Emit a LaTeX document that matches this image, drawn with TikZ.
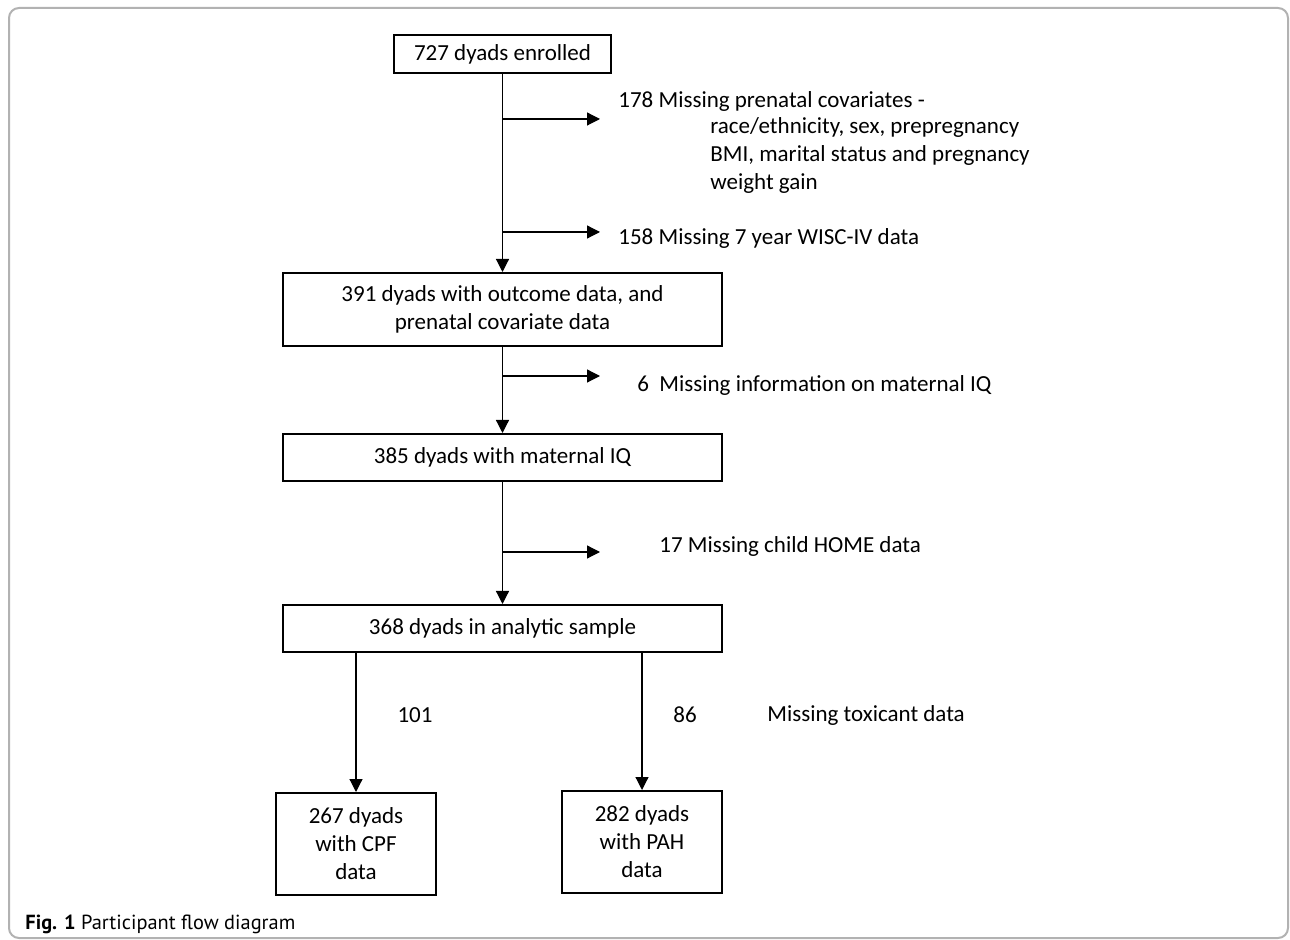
\documentclass[tikz,border=0pt]{standalone}
\usepackage{fontspec}
\setmainfont{Carlito}
\newfontfamily\capfont{PT Sans}
\usetikzlibrary{arrows.meta}

\begin{document}
\begin{tikzpicture}[
	x=0.5pt, y=-0.5pt,
	font=\fontsize{11.5}{14}\selectfont,
	block/.style={
		rectangle,
		draw=black, line width=1pt,
		inner sep=0pt, align=center
	},
	line/.style={draw, line width=0.6pt, -{Triangle[length=6.5pt,width=6.5pt]}},
	note/.style={anchor=west, inner sep=0pt, align=left},
	]
	\useasboundingbox (0,0) rectangle (1290,940);
	\draw [gray!60, line width=1pt, rounded corners=5pt] (9,8) rectangle (1288,938);

	\node [block, minimum width=108.5pt, minimum height=19pt] (enrol) at (502.5,54) {727 dyads enrolled};
	\node [block, minimum width=219.5pt, minimum height=36.5pt] (outcome) at (502.5,309.5) {391 dyads with outcome data, and\\prenatal covariate data};
	\node [block, minimum width=219.5pt, minimum height=23.5pt] (matiq) at (502.5,457.5) {385 dyads with maternal IQ};
	\node [block, minimum width=219.5pt, minimum height=23.5pt] (sample) at (502.5,628.5) {368 dyads in analytic sample};
	\node [block, minimum width=80pt, minimum height=51pt] (cpf) at (356,844) {267 dyads\\with CPF\\data};
	\node [block, minimum width=80pt, minimum height=51pt] (pah) at (642,842) {282 dyads\\with PAH\\data};

	% exclusions
	\node [note] (covar) at (618,101) {178 Missing prenatal covariates -};
	\node [note] (covarlist) at (710,155) {race/ethnicity, sex, prepregnancy\\BMI, marital status and pregnancy\\weight gain};
	\node [note] (wisc) at (618,238) {158 Missing 7 year WISC-IV data};
	\node [note] (mamiq) at (637,385) {6~~Missing information on maternal IQ};
	\node [note] (home) at (659,546) {17 Missing child HOME data};
	\node (n101) at (415,715) {101};
	\node (n86) at (685,715) {86};
	\node [note] (toxic) at (767,715) {Missing toxicant data};

	\coordinate (x1) at (600,119);
	\coordinate (x2) at (600,232);
	\coordinate (x3) at (600,376);
	\coordinate (x4) at (600,552);

	\path [line] (enrol) -- (outcome);
	\path [line] (enrol.south |- x1) -- (x1);
	\path [line] (enrol.south |- x2) -- (x2);
	\path [line] (outcome) -- (matiq);
	\path [line] (outcome.south |- x3) -- (x3);
	\path [line] (matiq) -- (sample);
	\path [line] (matiq.south |- x4) -- (x4);
	\path [line] (sample.south -| cpf) -- (cpf);
	\path [line] (sample.south -| pah) -- (pah);

	\node [anchor=base west, inner sep=0pt, font=\capfont\fontsize{10.2}{12}\selectfont] (caption) at (25,929) {\textbf{Fig. 1} Participant flow diagram};
\end{tikzpicture}
\end{document}
